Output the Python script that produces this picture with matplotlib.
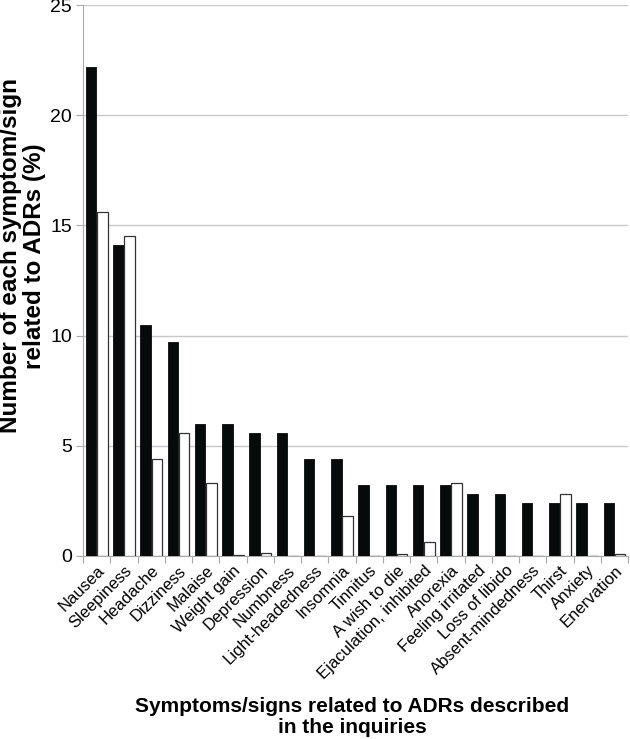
import numpy as np
import matplotlib.pyplot as plt

# data
symptoms = ["Nausea", "Sleepiness", "Headache", "Dizziness", "Malaise",
            "Weight gain", "Depression", "Numbness", "Light-headedness",
            "Insomnia", "Tinnitus", "A wish to die", "Ejaculation, inhibited",
            "Anorexia", "Feeling irritated", "Loss of libido",
            "Absent-mindedness", "Thirst", "Anxiety", "Enervation"]
black_vals = [22.2, 14.1, 10.5, 9.7, 6.0, 6.0, 5.6, 5.6, 4.4, 4.4,
              3.2, 3.2, 3.2, 3.2, 2.8, 2.8, 2.4, 2.4, 2.4, 2.4]
white_vals = [15.6, 14.5, 4.4, 5.6, 3.3, 0.05, 0.15, 0.0, 0.0, 1.8,
              0.0, 0.1, 0.65, 3.3, 0.0, 0.0, 0.0, 2.8, 0.0, 0.1]
yticks = [0, 5, 10, 15, 20, 25]

plt.rcParams.update({
    "font.family": ["Liberation Sans", "DejaVu Sans"],
    "font.size": 12,
})

fig = plt.figure(figsize=(6.3, 7.39), dpi=100)
ax = fig.add_axes([83 / 630, 1 - 556 / 739, 545 / 630, 551 / 739])

x = np.arange(len(symptoms))
w = 0.38
ax.bar(x - 0.2, black_vals, w, color="#070a0b", edgecolor="#070a0b", lw=0.6, zorder=3)
ax.bar(x + 0.21, white_vals, w, color="white", edgecolor="#333333", lw=0.9, zorder=3)

ax.set_xlim(-0.5, len(symptoms) - 0.5)
ax.set_ylim(0, 25)
ax.set_yticks(yticks)
ax.yaxis.grid(True, color="#c8c8c8", lw=1.0, zorder=0)
for s in ["top", "right"]:
    ax.spines[s].set_visible(False)
for s in ["left", "bottom"]:
    ax.spines[s].set_color("#aaaaaa")

# category ticks between groups, labels at centers
ax.set_xticks(np.arange(len(symptoms) + 1) - 0.5)
ax.set_xticklabels([])
ax.set_xticks(x, minor=True)
ax.set_xticklabels(symptoms, minor=True, rotation=45, ha="right",
                   rotation_mode="anchor", fontsize=12)
ax.tick_params(axis="x", which="major", length=5, color="#aaaaaa")
ax.tick_params(axis="x", which="minor", length=0, pad=5)
ax.tick_params(axis="y", length=5, color="#aaaaaa", labelsize=14, pad=3)

ax.set_ylabel("Number of each symptom/sign\nrelated to ADRs (%)",
              fontsize=17.5, fontweight="bold", linespacing=1.05)
ax.yaxis.set_label_coords(-0.068, 0.545)
fig.text(0.559, 0.003, "Symptoms/signs related to ADRs described\nin the inquiries",
         ha="center", va="bottom", fontsize=15, fontweight="bold",
         linespacing=1.1)

fig.savefig("out.png", dpi=100)
